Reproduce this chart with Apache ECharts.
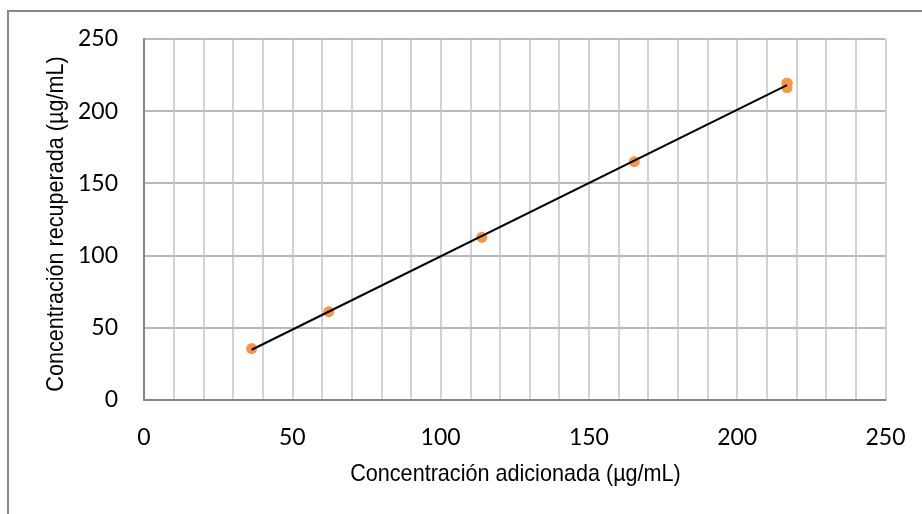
<!DOCTYPE html>
<html>
<head>
<meta charset="utf-8">
<script src="https://cdn.jsdelivr.net/npm/echarts@6/dist/echarts.min.js"></script>
<style>
  html, body { margin: 0; padding: 0; background: #ffffff; }
  #chart { width: 922px; height: 514px; }
</style>
</head>
<body>
<div id="chart"></div>
<script>
// Added vs. recovered concentration (µg/mL)
const concAdded = [36.3, 62.3, 113.9, 165.3, 216.8, 216.8, 216.8];
const concRecovered = [35.3, 60.9, 112.5, 164.9, 219.4, 219.4, 216.3];

const xTitle = 'Concentración adicionada (µg/mL)';
const yTitle = 'Concentración recuperada (µg/mL)';

// Least-squares trendline across the measured range
function linearFit(xs, ys) {
  const n = xs.length;
  const mx = xs.reduce((a, b) => a + b, 0) / n;
  const my = ys.reduce((a, b) => a + b, 0) / n;
  let sxy = 0, sxx = 0;
  for (let i = 0; i < n; i++) {
    sxy += (xs[i] - mx) * (ys[i] - my);
    sxx += (xs[i] - mx) * (xs[i] - mx);
  }
  const slope = sxy / sxx;
  return { slope, intercept: my - slope * mx };
}
const fit = linearFit(concAdded, concRecovered);
const xMin = Math.min(...concAdded);
const xMax = Math.max(...concAdded);
const trend = [
  [xMin, fit.slope * xMin + fit.intercept],
  [xMax, fit.slope * xMax + fit.intercept]
];

const points = concAdded.map((x, i) => [x, concRecovered[i]]);

const tickFont = { fontFamily: 'Lato, "Open Sans", sans-serif', fontSize: 23, color: '#000000' };
const titleStyle = {
  fontFamily: '"Liberation Sans", Arial, sans-serif',
  fontSize: 24,
  fill: '#000000',
  align: 'center',
  verticalAlign: 'middle'
};

const chart = echarts.init(document.getElementById('chart'), null, { renderer: 'canvas' });
chart.setOption({
  animation: false,
  backgroundColor: '#ffffff',
  grid: { left: 144, top: 39, right: 36.5, bottom: 114.5, containLabel: false },
  graphic: [
    {
      type: 'rect',
      shape: { x: 8, y: 11, width: 1000, height: 1000 },
      style: { fill: 'none', stroke: '#898989', lineWidth: 2 },
      silent: true,
      z: 0
    },
    // Axis titles, set in a condensed face
    {
      type: 'text',
      x: 515.5, y: 474,
      scaleX: 0.9,
      style: Object.assign({ text: xTitle }, titleStyle),
      silent: true
    },
    {
      type: 'text',
      x: 56, y: 224,
      rotation: Math.PI / 2,
      scaleX: 0.9,
      style: Object.assign({ text: yTitle }, titleStyle),
      silent: true
    }
  ],
  xAxis: {
    type: 'value',
    min: 0, max: 250, interval: 50,
    axisLine: { show: true, lineStyle: { color: '#868686', width: 2 } },
    axisTick: { show: false },
    minorTick: { show: false, splitNumber: 5 },
    axisLabel: Object.assign({ margin: 27 }, tickFont),
    splitLine: { show: true, lineStyle: { color: '#c3c3c3', width: 1.5 } },
    minorSplitLine: { show: true, lineStyle: { color: '#c3c3c3', width: 1.5 } }
  },
  yAxis: {
    type: 'value',
    min: 0, max: 250, interval: 50,
    axisLine: { show: true, lineStyle: { color: '#868686', width: 2 } },
    axisTick: { show: false },
    axisLabel: Object.assign({ margin: 26 }, tickFont),
    splitLine: { show: true, lineStyle: { color: '#a3a3a3', width: 1.5 } }
  },
  series: [
    {
      type: 'scatter',
      data: points,
      symbol: 'circle',
      symbolSize: 11,
      itemStyle: { color: '#f79646', opacity: 1 },
      z: 3
    },
    {
      type: 'line',
      data: trend,
      showSymbol: false,
      symbol: 'none',
      lineStyle: { color: '#000000', width: 2 },
      z: 4
    }
  ]
});
</script>
</body>
</html>
